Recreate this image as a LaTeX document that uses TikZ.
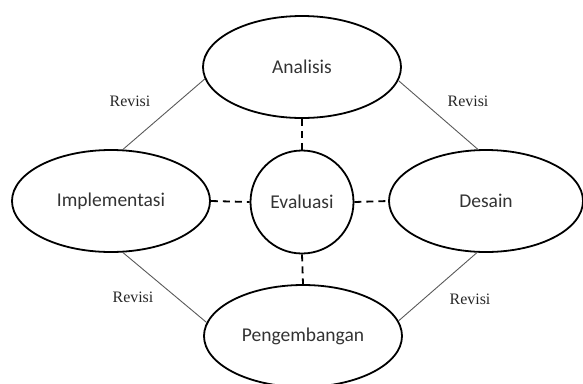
\documentclass[tikz,border=0pt]{standalone}
\usepackage{fontspec}
\setmainfont{Carlito}
\newfontfamily\revfont{Liberation Serif}
\usetikzlibrary{shapes.geometric}
\tikzset{
  phase/.style={ellipse, draw=black, line width=1.8bp, inner sep=0pt,
    minimum width=198bp, minimum height=102bp, text=black!80,
    font=\fontsize{19.6}{22}\selectfont},
  evalbox/.style={circle, draw=black, line width=1.8bp, inner sep=0pt,
    minimum size=103bp, text=black!80, font=\fontsize{19.6}{22}\selectfont},
  revline/.style={draw=black!65, line width=0.9bp},
  evline/.style={draw=black, line width=1.8bp, dash pattern=on 7bp off 5bp},
  revlabel/.style={font=\revfont\fontsize{16}{18}\selectfont, text=black!85, inner sep=0pt}
}
\begin{document}
\begin{tikzpicture}[x=1bp,y=-1bp]
\useasboundingbox (0,0) rectangle (583,383);
\node[phase] (ana) at (302,67) {Analisis};
\node[phase] (imp) at (111,201) {Implementasi};
\node[phase, minimum width=194bp] (des) at (486,201) {Desain};
\node[phase] (pen) at (303,336) {Pengembangan};
\node[evalbox] (eva) at (302,202) {Evaluasi};

\draw[evline] (ana.south) -- (eva.north);
\draw[evline] (eva.south) -- (pen.north);
\draw[evline] (imp.east) -- (eva.west);
\draw[evline] (eva.east) -- (des.west);

\draw[revline] (ana.187.5) -- (imp.77);
\draw[revline] (ana.352.5) -- (des.99);
\draw[revline] (imp.283) -- (pen.172.5);
\draw[revline] (des.260) -- (pen.9);

\node[revlabel] (r1) at (130,101) {Revisi};
\node[revlabel] (r2) at (468,101) {Revisi};
\node[revlabel] (r3) at (133,297) {Revisi};
\node[revlabel] (r4) at (470,299) {Revisi};
\end{tikzpicture}
\end{document}
